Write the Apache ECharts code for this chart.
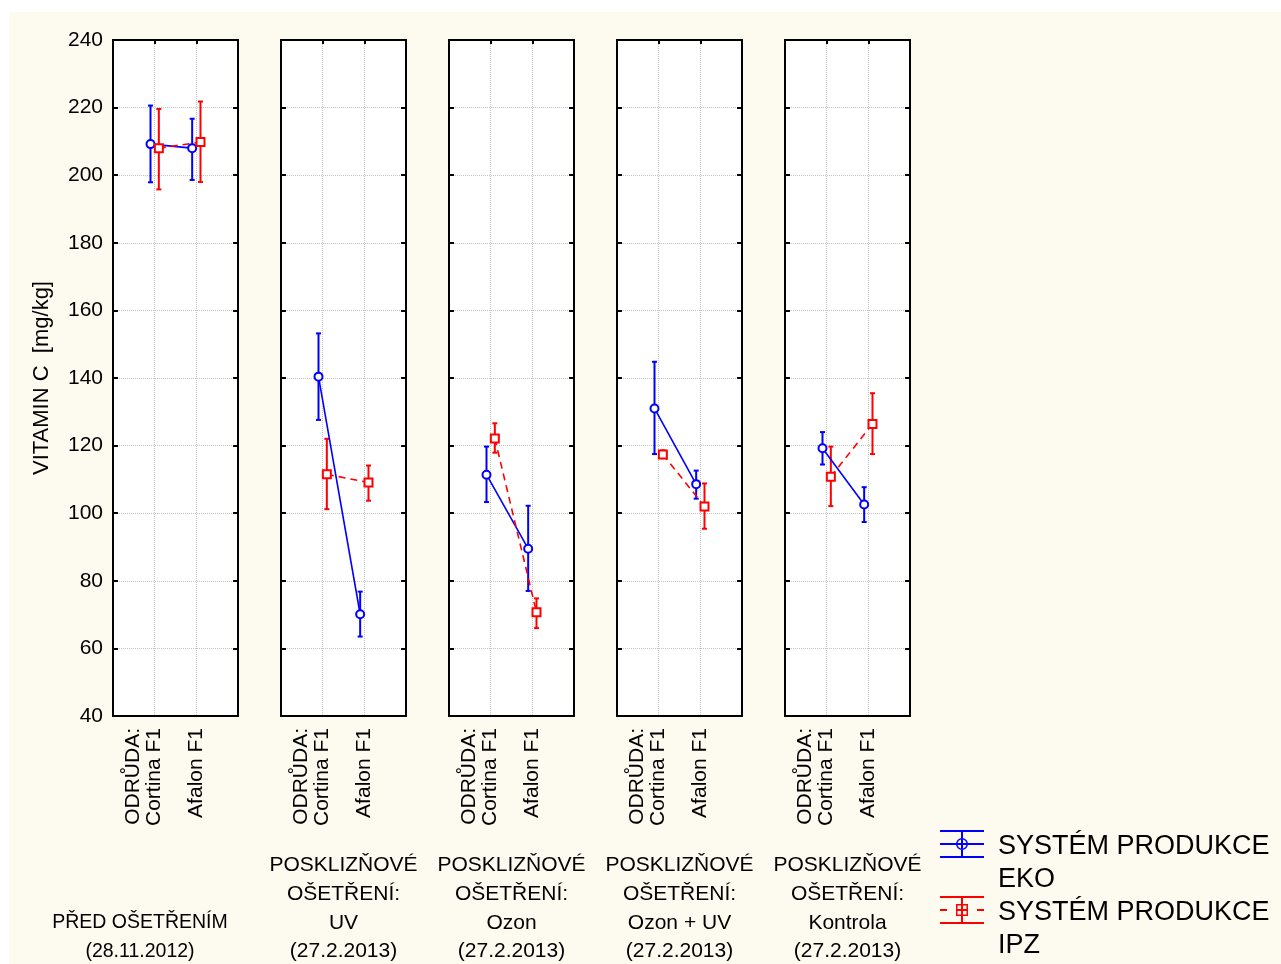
<!DOCTYPE html>
<html>
<head>
    <meta charset="utf-8">
    <title>VITAMIN C</title>
    <script src="https://cdn.jsdelivr.net/npm/echarts@6/dist/echarts.min.js"></script>
    <style>
        body { margin: 0; background: #fff; }
        #chart_div { position: absolute; left: 9px; top: 12px; width: 1272px; height: 952px; }
    </style>
</head>
<body>
    <div id="chart_div"></div>

    <script>
        // skupiny (panely) a odrudy
        const panelNames = [
            '\n\nPŘED OŠETŘENÍM\n(28.11.2012)',
            'POSKLIZŇOVÉ\nOŠETŘENÍ:\nUV\n(27.2.2013)',
            'POSKLIZŇOVÉ\nOŠETŘENÍ:\nOzon\n(27.2.2013)',
            'POSKLIZŇOVÉ\nOŠETŘENÍ:\nOzon + UV\n(27.2.2013)',
            'POSKLIZŇOVÉ\nOŠETŘENÍ:\nKontrola\n(27.2.2013)'
        ];
        const varieties = ['ODRŮDA:\nCortina F1\n', 'Afalon F1'];
        const seriesNames = ['EKO', 'IPZ'];

        // prumery a intervaly [Cortina, Afalon] pro kazdy panel
        const ekoMean = [[209.2, 208.0], [140.4, 70.1], [111.4, 89.5], [131.0, 108.6], [119.2, 102.6]];
        const ekoLow  = [[197.9, 198.6], [127.6, 63.5], [103.3, 77.0], [117.5, 104.3], [114.4, 97.4]];
        const ekoHigh = [[220.6, 216.7], [153.2, 76.8], [119.7, 102.2], [144.8, 112.6], [124.0, 107.7]];
        const ipzMean = [[208.0, 209.8], [111.5, 109.1], [122.1, 70.7], [117.4, 102.0], [110.8, 126.4]];
        const ipzLow  = [[195.8, 198.0], [101.2, 103.7], [117.9, 66.0], [116.3, 95.4], [102.1, 117.5]];
        const ipzHigh = [[219.6, 221.8], [122.0, 114.1], [126.6, 74.8], [118.6, 108.8], [119.7, 135.5]];

        const BLUE = '#0000ff';
        const RED = '#ff0000';
        const FONT = "'Liberation Sans', Arial, sans-serif";

        const gridLeft = [104, 272, 440, 608, 776];

        const ekoIcon = 'path://M0 0H44V2H0Z M0 26H44V28H0Z M0 13H44V15H0Z M21 0H23V28H21Z ' +
            'M16 14A6 6 0 1 1 28 14A6 6 0 1 1 16 14Z M17.5 14A4.5 4.5 0 1 0 26.5 14A4.5 4.5 0 1 0 17.5 14Z';
        const ipzIcon = 'path://M0 0H44V2H0Z M0 26H44V28H0Z M0 13H7V15H0Z M37 13H44V15H37Z M16 13H28V15H16Z M21 0H23V28H21Z ' +
            'M16 8H28V20H16Z M17.5 9.5V18.5H26.5V9.5Z';

        function errorBars(color) {
            return function (params, api) {
                const x = api.value(0);
                const lo = api.coord([x, api.value(1)]);
                const hi = api.coord([x, api.value(2)]);
                const style = { stroke: color, lineWidth: 2 };
                return {
                    type: 'group',
                    children: [
                        { type: 'line', shape: { x1: hi[0], y1: hi[1], x2: lo[0], y2: lo[1] }, style: style },
                        { type: 'line', shape: { x1: hi[0] - 2.5, y1: hi[1], x2: hi[0] + 2.5, y2: hi[1] }, style: style },
                        { type: 'line', shape: { x1: lo[0] - 2.5, y1: lo[1], x2: lo[0] + 2.5, y2: lo[1] }, style: style }
                    ]
                };
            };
        }

        const grids = [], xAxes = [], yAxes = [];
        const barSeries = [], lineSeries = [];
        const groups = [
            { name: 'EKO', mean: ekoMean, low: ekoLow, high: ekoHigh, color: BLUE, shift: -0.1 },
            { name: 'IPZ', mean: ipzMean, low: ipzLow, high: ipzHigh, color: RED, shift: 0.1 }
        ];

        panelNames.forEach((pname, i) => {
            grids.push({
                left: gridLeft[i], top: 28, width: 125, height: 676,
                show: true, backgroundColor: '#fff', borderColor: '#000', borderWidth: 2,
                containLabel: false, outerBoundsMode: 'none'
            });

            // kategorie - popisky a svisle mrizky
            xAxes.push({
                type: 'category', gridIndex: i, boundaryGap: false,
                data: ['', varieties[0], varieties[1], ''],
                axisLine: { show: false },
                axisTick: { show: false },
                axisLabel: {
                    interval: 0, rotate: 90, margin: 12, fontSize: 21, lineHeight: 21,
                    color: '#000', fontFamily: FONT
                },
                splitLine: {
                    show: true, interval: (idx) => idx === 1 || idx === 2,
                    lineStyle: { color: '#c4c4c4', type: 'dotted', width: 1 }
                },
                name: pname, nameLocation: 'middle', nameGap: 135,
                nameTextStyle: {
                    fontSize: i === 0 ? 19.5 : 21, lineHeight: 28.7, color: '#000', fontFamily: FONT,
                    padding: i === 0 ? [0, 71, 0, 0] : 0
                }
            });
            // ciselna osa pro data
            xAxes.push({
                type: 'value', gridIndex: i, min: 0, max: 3, interval: 1, position: 'top',
                axisLine: { show: false },
                axisLabel: { show: false },
                axisTick: { show: true, inside: true, length: 4, lineStyle: { color: '#000', width: 2 } },
                splitLine: { show: false }
            });

            yAxes.push({
                type: 'value', gridIndex: i, min: 40, max: 240, interval: 20,
                axisLine: { show: false },
                axisTick: { show: true, inside: true, length: 5, lineStyle: { color: '#000', width: 2 } },
                axisLabel: { show: i === 0, margin: 10, fontSize: 21, color: '#000', fontFamily: FONT },
                splitLine: {
                    show: true, showMinLine: false, showMaxLine: false,
                    lineStyle: { color: '#c4c4c4', type: 'dotted', width: 1 }
                },
                name: i === 0 ? 'VITAMIN C  [mg/kg]' : '',
                nameLocation: 'middle', nameGap: 60, nameRotate: 90,
                nameTextStyle: { fontSize: 22, color: '#000', fontFamily: FONT }
            });
            yAxes.push({
                type: 'value', gridIndex: i, min: 40, max: 240, interval: 20, position: 'right',
                axisLine: { show: false },
                axisTick: { show: true, inside: true, length: 5, lineStyle: { color: '#000', width: 2 } },
                axisLabel: { show: false },
                splitLine: { show: false }
            });

            groups.forEach(g => {
                barSeries.push({
                    name: g.name, type: 'custom',
                    xAxisIndex: 2 * i + 1, yAxisIndex: 2 * i,
                    itemStyle: { color: g.color },
                    renderItem: errorBars(g.color),
                    encode: { x: 0, y: [1, 2] },
                    data: [0, 1].map(k => [k + 1 + g.shift, g.low[i][k], g.high[i][k]]),
                    z: 2
                });
                lineSeries.push({
                    name: g.name, type: 'line',
                    xAxisIndex: 2 * i + 1, yAxisIndex: 2 * i,
                    symbol: g.name === 'EKO' ? 'emptyCircle' : 'emptyRect',
                    symbolSize: 8,
                    itemStyle: { color: g.color, borderWidth: 1.6 },
                    lineStyle: { color: g.color, width: 1.6, type: g.name === 'EKO' ? 'solid' : [7, 5] },
                    data: [0, 1].map(k => [k + 1 + g.shift, g.mean[i][k]]),
                    z: 3
                });
            });
        });

        function makeLegend(name, icon, top) {
            return {
                data: [{ name: name, icon: icon }],
                left: 931, top: top, padding: 0,
                itemWidth: 44, itemHeight: 28,
                selectedMode: false,
                formatter: n => '{s| }\n{a|SYSTÉM PRODUKCE}\n{a|' + n + '}',
                textStyle: {
                    fontSize: 27, lineHeight: 33, color: '#000', fontFamily: FONT,
                    padding: [0, 0, 0, 9],
                    rich: {
                        s: { fontSize: 27, lineHeight: 39, fontFamily: FONT },
                        a: { fontSize: 27, lineHeight: 33, color: '#000', fontFamily: FONT }
                    }
                }
            };
        }

        const myChart = echarts.init(document.getElementById('chart_div'));
        myChart.setOption({
            animation: false,
            backgroundColor: '#fdfaf0',
            textStyle: { fontFamily: FONT },
            legend: [makeLegend('EKO', ekoIcon, 779.5), makeLegend('IPZ', ipzIcon, 845.5)],
            grid: grids,
            xAxis: xAxes,
            yAxis: yAxes,
            series: barSeries.concat(lineSeries)
        });

        window.addEventListener('resize', () => myChart.resize());
    </script>
</body>
</html>
